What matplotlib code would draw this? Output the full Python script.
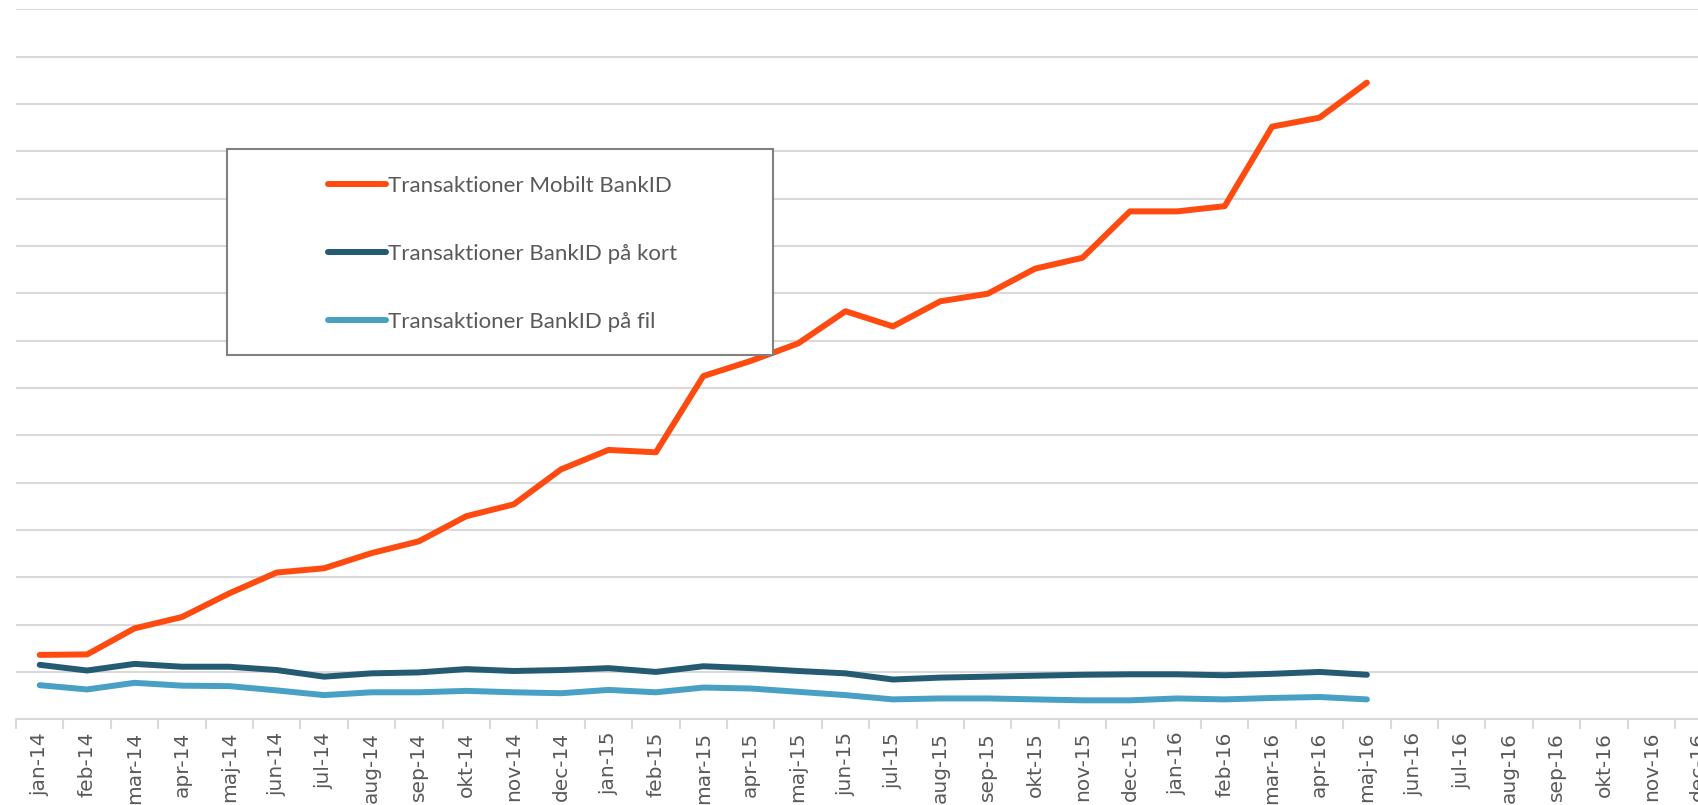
import matplotlib.pyplot as plt
from matplotlib.patches import Rectangle

# månader jan-14 .. dec-16 (endast data t.o.m. maj-16)
months = ["jan", "feb", "mar", "apr", "maj", "jun", "jul", "aug", "sep", "okt", "nov", "dec"]
labels = [f"{m}-{y}" for y in ("14", "15", "16") for m in months]

# värden avlästa i enheter av stödlinjer (0..15)
mobilt = [1.36, 1.37, 1.92, 2.16, 2.66, 3.10, 3.19, 3.51, 3.76, 4.29, 4.54, 5.28,
          5.69, 5.64, 7.25, 7.57, 7.94, 8.62, 8.30, 8.83, 8.99, 9.52, 9.75, 10.73,
          10.73, 10.84, 12.52, 12.71, 13.45]
kort = [1.15, 1.03, 1.17, 1.11, 1.11, 1.04, 0.90, 0.97, 0.99, 1.06, 1.02, 1.04,
        1.08, 1.00, 1.12, 1.08, 1.02, 0.97, 0.84, 0.88, 0.90, 0.92, 0.94, 0.95,
        0.95, 0.93, 0.96, 1.00, 0.94]
fil = [0.72, 0.63, 0.77, 0.71, 0.70, 0.61, 0.51, 0.57, 0.57, 0.60, 0.57, 0.55,
       0.62, 0.57, 0.67, 0.65, 0.58, 0.51, 0.42, 0.44, 0.44, 0.42, 0.40, 0.40,
       0.44, 0.42, 0.45, 0.47, 0.42]

series = [
    ("Transaktioner Mobilt BankID", mobilt, "#FF4A10"),
    ("Transaktioner BankID på kort", kort, "#245B72"),
    ("Transaktioner BankID på fil", fil, "#48A0C4"),
]

fig = plt.figure(figsize=(16.99, 8.05), dpi=100)
ax = fig.add_axes([16 / 1699, 0.1065, 1706.4 / 1699, 0.882])

for name, vals, col in series:
    ax.plot(range(len(vals)), vals, color=col, lw=4.3, label=name,
            solid_capstyle="round", solid_joinstyle="round", zorder=3)

ax.set_xlim(-0.5, len(labels) - 0.5)
ax.set_ylim(0, 15)
ax.set_yticks(range(0, 16))
ax.yaxis.grid(True, color="#d9d9d9", lw=1.5)
ax.set_axisbelow(True)
ax.tick_params(axis="y", left=False, labelleft=False)

ax.set_xticks(range(len(labels)))
ax.set_xticklabels(labels, rotation=90, fontsize=14.5, color="#595959")
ax.set_xticks([i - 0.5 for i in range(len(labels) + 1)], minor=True)
ax.tick_params(axis="x", which="major", length=0, pad=9)
ax.tick_params(axis="x", which="minor", length=7, width=1.5, color="#d9d9d9")

for s in ("top", "right", "left"):
    ax.spines[s].set_visible(False)
ax.spines["bottom"].set_color("#d9d9d9")
ax.spines["bottom"].set_linewidth(1.5)

# legendruta
box = Rectangle((227.5 / 1699, 1 - 355.4 / 805), 545 / 1699, 206 / 805,
                transform=fig.transFigure, facecolor="white", edgecolor="#808080",
                lw=1.5, zorder=5)
fig.patches.append(box)
leg = fig.legend(loc="upper left", bbox_to_anchor=(328 / 1699, 1 - 176 / 805),
                 frameon=False, handlelength=2.6, handletextpad=0.12,
                 labelspacing=2.15, borderpad=0, borderaxespad=0,
                 prop={"family": "Lato", "size": 16})
for t in leg.get_texts():
    t.set_color("#595959")
leg.set_zorder(6)

fig.savefig("out.png", dpi=100)
